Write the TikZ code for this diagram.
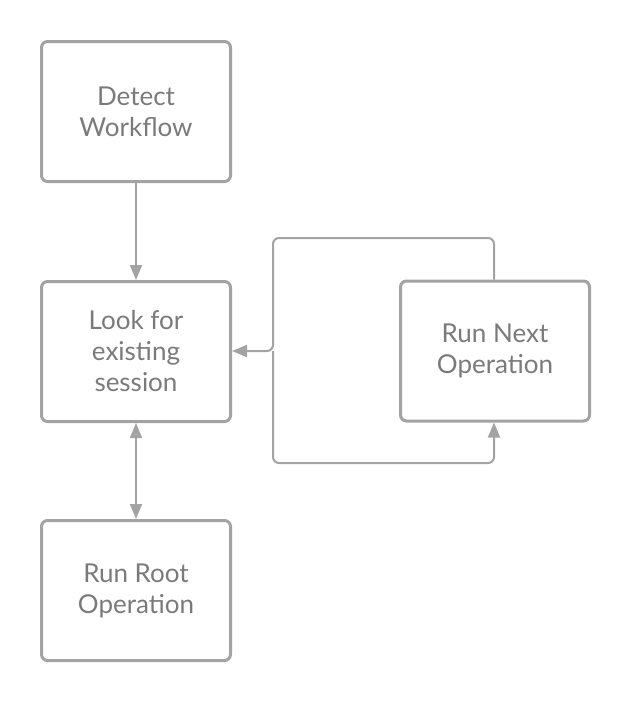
\documentclass[tikz,border=0pt]{standalone}
\usepackage{fontspec}
\setmainfont{Lato}
\usetikzlibrary{arrows.meta}
\definecolor{linegray}{HTML}{A3A3A3}
\definecolor{textgray}{HTML}{7A7A7A}
\tikzset{
  box/.style={draw=linegray, line width=3pt, rounded corners=6pt, minimum width=189pt, minimum height=140pt, inner sep=0pt, align=center, text=textgray, font=\fontsize{26}{31}\selectfont},
  conn/.style={draw=linegray, line width=2pt, -{Triangle[length=15pt,width=12pt]}},
}
\begin{document}
\begin{tikzpicture}[x=1pt,y=-1pt]
\useasboundingbox (0,0) rectangle (631,702);
\node[box] (detect) at (136,111.5) {Detect\\Workflow};
\node[box] (look) at (136,351.5) {Look for\\existing\\session};
\node[box] (root) at (136,590.5) {Run Root\\Operation};
\node[box] (next) at (495,351) {Run Next\\Operation};
\coordinate (m) at (273,351);
\draw[conn] (detect.south) -- (look.north);
\draw[conn, {Triangle[length=15pt,width=12pt]}-{Triangle[length=15pt,width=12pt]}] (look.south) -- (root.north);
\draw[conn, rounded corners=6pt] (next.north -| 494,0) -- (494,238) -- (273,238) -- (m) -- (look.east |- m);
\draw[conn, rounded corners=6pt] (m) -- (273,463) -- (494,463) -- (next.south -| 494,0);
\end{tikzpicture}
\end{document}
